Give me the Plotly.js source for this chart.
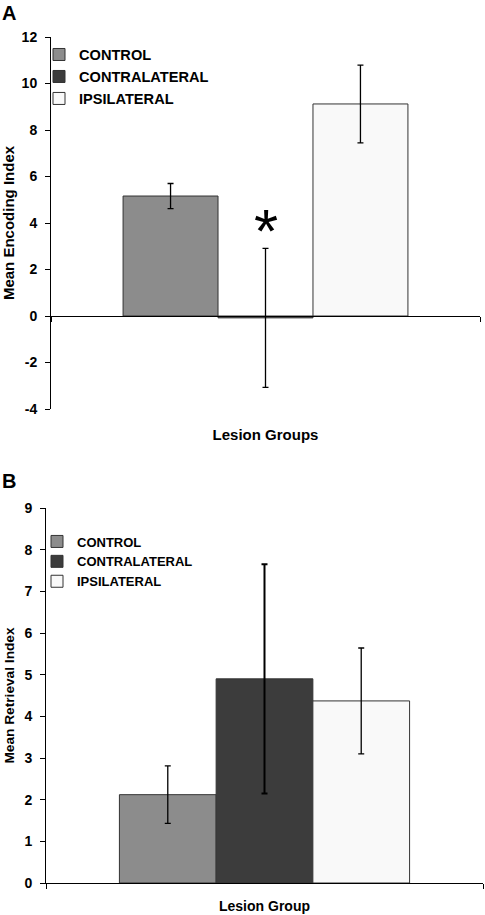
<!DOCTYPE html>
<html>
<head>
<meta charset="utf-8">
<script src="https://cdn.plot.ly/plotly-3.0.1.min.js"></script>
<style>html,body{margin:0;padding:0;background:#fff;}#chart{width:485px;height:915px;}</style>
</head>
<body>
<div id="chart"></div>
<script>
const groups = ['CONTROL', 'CONTRALATERAL', 'IPSILATERAL'];
const barColors = ['#8c8c8c', '#3c3c3c', '#f9f9f9'];
const encodingCategory = ['Lesion Groups'];
const encodingMeans = [5.16, -0.08, 9.12];
const encodingErr = [0.54, 2.99, 1.67];
const retrievalCategory = ['Lesion Group'];
const retrievalMeans = [2.12, 4.90, 4.37];
const retrievalErr = [0.69, 2.75, 1.27];
const encodingTicks = [-4, -2, 0, 2, 4, 6, 8, 10, 12];
const retrievalTicks = [0, 1, 2, 3, 4, 5, 6, 7, 8, 9];
const encodingRange = [-4, 12];
const retrievalRange = [0, 9];

const FONT = 'Liberation Sans, Arial, sans-serif';
const traces = [];
groups.forEach((g, i) => {
  traces.push({
    type: 'bar', name: g, x: encodingCategory, y: [encodingMeans[i]],
    xaxis: 'x', yaxis: 'y', legend: 'legend',
    marker: {color: barColors[i], line: {color: '#333', width: 1}},
    error_y: {type: 'data', array: [encodingErr[i]], visible: true, color: '#000', thickness: 1.3, width: 3},
    hoverinfo: 'skip'
  });
});
groups.forEach((g, i) => {
  traces.push({
    type: 'bar', name: g, x: retrievalCategory, y: [retrievalMeans[i]],
    xaxis: 'x2', yaxis: 'y2', legend: 'legend2',
    marker: {color: barColors[i], line: {color: '#333', width: 1}},
    error_y: {type: 'data', array: [retrievalErr[i]], visible: true, color: '#000', thickness: i === 1 ? 2 : 1.3, width: 3},
    hoverinfo: 'skip'
  });
});

const H = 915, W = 485;
const yDomA = [(H - 409) / H, (H - 37) / H];
// x axis of panel A crosses the y axis at value 0
const zeroPosA = yDomA[0] + (0 - encodingRange[0]) / (encodingRange[1] - encodingRange[0]) * (yDomA[1] - yDomA[0]);
const zeroPx = H - zeroPosA * H;

const tickFont = {family: FONT, size: 14, color: '#000', weight: 'bold'};
const layout = {
  width: W, height: H,
  margin: {l: 0, r: 0, t: 0, b: 0},
  paper_bgcolor: '#fff', plot_bgcolor: '#fff',
  barmode: 'group', bargap: 0.336, bargroupgap: 0,
  showlegend: true,
  xaxis: {
    domain: [51 / W, 480 / W], anchor: 'free', position: zeroPosA, type: 'category',
    showline: true, linecolor: '#000', linewidth: 1,
    showticklabels: false, ticks: 'outside', tickson: 'boundaries', ticklen: 5, tickcolor: '#000',
    showgrid: false, zeroline: false,
    title: {text: 'Lesion Groups', font: {family: FONT, size: 15, color: '#000', weight: 'bold'}, standoff: 20 + (409 - zeroPx)}
  },
  yaxis: {
    domain: yDomA, anchor: 'x',
    range: encodingRange, tickvals: encodingTicks, ticktext: encodingTicks.map(String),
    showline: true, linecolor: '#000', linewidth: 1, ticks: 'outside', ticklen: 5, tickcolor: '#000',
    ticklabelstandoff: 5,
    showgrid: false, zeroline: false,
    tickfont: tickFont,
    title: {text: 'Mean Encoding Index', font: {family: FONT, size: 15, color: '#000', weight: 'bold'}, standoff: 6}
  },
  xaxis2: {
    domain: [46 / W, 483 / W], anchor: 'y2', type: 'category',
    showline: true, linecolor: '#000', linewidth: 1,
    showticklabels: false, ticks: 'outside', tickson: 'boundaries', ticklen: 5, tickcolor: '#000',
    showgrid: false, zeroline: false,
    title: {text: 'Lesion Group', font: {family: FONT, size: 14, color: '#000', weight: 'bold'}, standoff: 18}
  },
  yaxis2: {
    domain: [(H - 883) / H, (H - 508) / H], anchor: 'x2',
    range: retrievalRange, tickvals: retrievalTicks, ticktext: retrievalTicks.map(String),
    showline: true, linecolor: '#000', linewidth: 1, ticks: 'outside', ticklen: 5, tickcolor: '#000',
    ticklabelstandoff: 5,
    showgrid: false, zeroline: false,
    tickfont: tickFont,
    title: {text: 'Mean Retrieval Index', font: {family: FONT, size: 13.7, color: '#000', weight: 'bold'}, standoff: 6}
  },
  legend: {
    x: 39 / W, y: (H - 38.5) / H, xanchor: 'left', yanchor: 'top',
    bgcolor: 'rgba(0,0,0,0)', borderwidth: 0, traceorder: 'normal',
    font: {family: FONT, size: 14.6, color: '#000', weight: 'bold'}
  },
  legend2: {
    x: 37 / W, y: (H - 526.5) / H, xanchor: 'left', yanchor: 'top',
    bgcolor: 'rgba(0,0,0,0)', borderwidth: 0, traceorder: 'normal',
    font: {family: FONT, size: 13, color: '#000', weight: 'bold'}
  },
  annotations: [
    {xref: 'paper', yref: 'paper', x: 0, y: 1, xanchor: 'left', yanchor: 'top', text: 'A', showarrow: false,
     font: {family: FONT, size: 20, color: '#000', weight: 'bold'}},
    {xref: 'paper', yref: 'paper', x: 0, y: (H - 468) / H, xanchor: 'left', yanchor: 'top', text: 'B', showarrow: false,
     font: {family: FONT, size: 20, color: '#000', weight: 'bold'}},
    {xref: 'x', yref: 'y', x: encodingCategory[0], y: 4.05, text: '*', showarrow: false, yshift: -9,
     font: {family: FONT, size: 62, color: '#000'}}
  ]
};
Plotly.newPlot('chart', traces, layout, {staticPlot: true, displayModeBar: false});
</script>
</body>
</html>
